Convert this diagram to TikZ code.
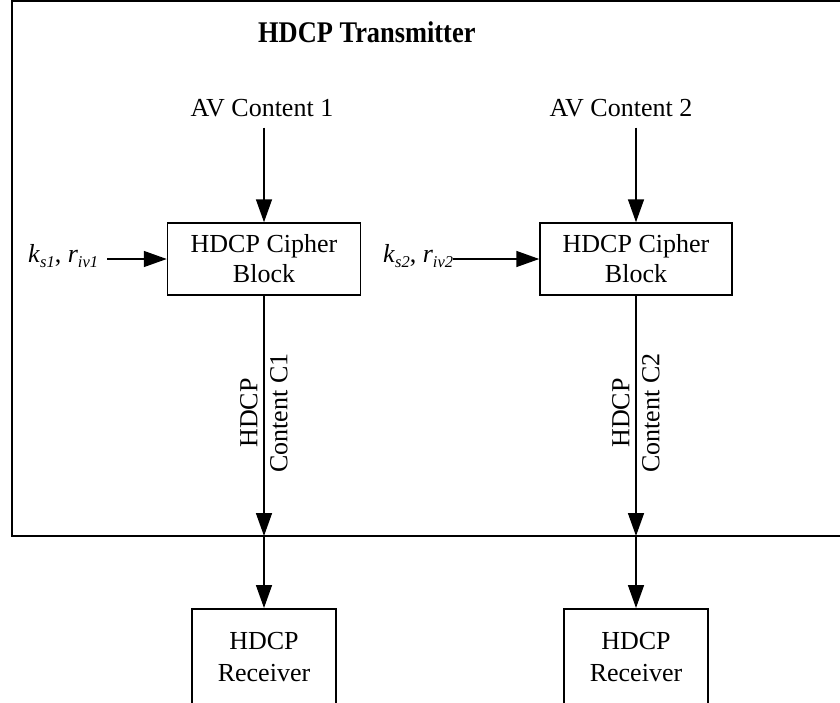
\documentclass[tikz,border=0pt]{standalone}
\usepackage{fontspec}
\setmainfont{Liberation Serif}
\usetikzlibrary{arrows.meta}
\newcommand\mysub[1]{\raisebox{-0.22em}{\fontsize{16.5}{16.5}\selectfont\itshape #1}}
\begin{document}
\begin{tikzpicture}[x=1pt,y=-1pt,
  every node/.style={font=\fontsize{26}{30}\selectfont},
  box/.style={draw, line width=1.5pt, inner sep=0pt, align=center},
  lbl/.style={inner sep=0pt},
  arr/.style={line width=1.5pt, -{Triangle[length=23pt,width=16pt]}},
  ]
\clip (0,0) rectangle (840,702);
\fill[white] (0,0) rectangle (840,702);
\draw[line width=2pt] (12,1) rectangle (860,536);
\node[lbl, anchor=base west] (title) at (258,42) {\scalebox{0.88}[1]{\fontsize{30}{30}\selectfont\bfseries HDCP Transmitter}};
\node[lbl, anchor=base] (av1) at (262,116) {AV Content 1};
\node[lbl, anchor=base] (av2) at (621,116) {AV Content 2};
\node[box, minimum width=193pt, minimum height=72pt] (b1) at (264,259) {HDCP Cipher\\Block};
\node[box, minimum width=192pt, minimum height=72pt] (b2) at (636,259) {HDCP Cipher\\Block};
\node[lbl, anchor=base west] (k1) at (28,262) {\textit{k}\mysub{s1}, \textit{r}\mysub{iv1}};
\node[lbl, anchor=base west] (k2) at (383,262) {\textit{k}\mysub{s2}, \textit{r}\mysub{iv2}};
\draw[arr] ([xshift=9pt]k1.east |- b1.west) -- (b1.west);
\draw[arr] (k2.east |- b2.west) -- (b2.west);
\draw[arr] ([yshift=-11pt]av1.south -| b1.north) -- (b1.north);
\draw[arr] ([yshift=-11pt]av2.south -| b2.north) -- (b2.north);
\node[lbl, rotate=90, align=center] (c1) at (264,413) {HDCP\\Content C1};
\node[lbl, rotate=90, align=center] (c2) at (636,413) {HDCP\\Content C2};
\coordinate (o1) at (264,536);
\coordinate (o2) at (636,536);
\node[box, minimum width=144pt, minimum height=96pt, anchor=north] (r1) at (264,608) {HDCP\\[2pt]Receiver};
\node[box, minimum width=144pt, minimum height=96pt, anchor=north] (r2) at (636,608) {HDCP\\[2pt]Receiver};
\draw[arr] (b1.south) -- (o1);
\draw[arr] (b2.south) -- (o2);
\draw[arr] (o1) -- (r1.north);
\draw[arr] (o2) -- (r2.north);
\end{tikzpicture}
\end{document}
